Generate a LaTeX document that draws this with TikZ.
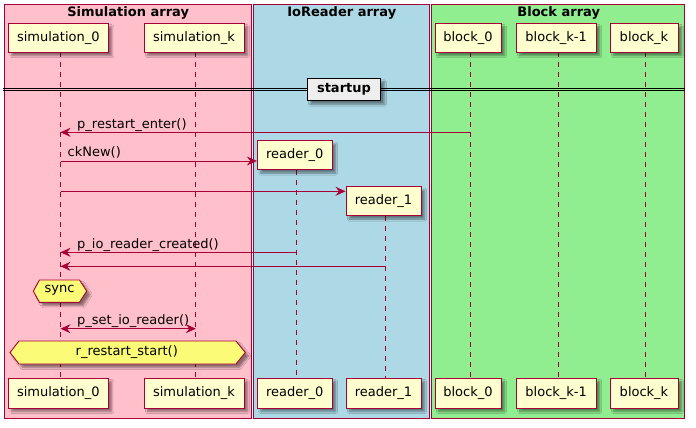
\documentclass[tikz,border=0pt]{standalone}
\usepackage{fontspec}
\setmainfont{DejaVu Sans}
\usetikzlibrary{arrows.meta,shadows.blur,calc}
\definecolor{brd}{HTML}{A80036}
\definecolor{partfill}{HTML}{FEFECE}
\definecolor{hexfill}{HTML}{FBFB77}
\definecolor{pinkc}{HTML}{FFC0CB}
\definecolor{bluec}{HTML}{ADD8E6}
\definecolor{greenc}{HTML}{90EE90}
\definecolor{sepfill}{HTML}{EEEEEE}
\begin{document}
\begin{tikzpicture}[x=1pt,y=-1pt,
  shad/.style={blur shadow={shadow xshift=3.5pt, shadow yshift=-3.5pt, shadow blur radius=2pt, shadow blur steps=6, shadow opacity=45}},
  part/.style={draw=brd, line width=1pt, fill=partfill, minimum height=29pt, inner sep=0pt,
    font=\fontsize{13}{15}\selectfont, shad},
  gtitle/.style={anchor=base, inner sep=0pt, font=\bfseries\fontsize{13}{15}\selectfont},
  grp/.style={draw=brd, line width=0.9pt},
  life/.style={draw=brd, line width=0.8pt, dash pattern=on 5pt off 5pt},
  msg/.style={draw=brd, line width=0.8pt, -{Stealth[length=10pt,width=9pt,inset=3.5pt]}},
  dmsg/.style={draw=brd, line width=0.8pt, {Stealth[length=10pt,width=9pt,inset=3.5pt]}-{Stealth[length=10pt,width=9pt,inset=3.5pt]}},
  lbl/.style={anchor=base west, inner sep=0pt, font=\fontsize{13}{15}\selectfont},
  hex/.style={draw=brd, fill=hexfill, line width=0.9pt, shad},
  htxt/.style={inner sep=0pt, font=\fontsize{13}{15}\selectfont},
  sepbox/.style={draw=black, line width=1.2pt, fill=sepfill, minimum width=73.7pt, minimum height=22.4pt,
    inner sep=0pt, font=\bfseries\fontsize{13}{15}\selectfont, shad}
]
\useasboundingbox (0,0) rectangle (696,428);
\fill[white] (0,0) rectangle (696,428);

% groups
\path[grp, fill=pinkc] (4,4) rectangle (251,418);
\path[grp, fill=bluec] (253,4) rectangle (429.7,418);
\path[grp, fill=greenc] (431.3,4) rectangle (684.7,418);
\node[gtitle] (tsim) at (128.2,16.5) {Simulation array};
\node[gtitle] (tio) at (341.8,16.5) {IoReader array};
\node[gtitle] (tblk) at (558.7,16.5) {Block array};

% lifeline x positions
\coordinate (Ls0) at (60.5,0);
\coordinate (Lsk) at (195.8,0);
\coordinate (Lr0) at (296.7,0);
\coordinate (Lr1) at (385.3,0);
\coordinate (Lb0) at (470.5,0);
\coordinate (Lbk1) at (558.3,0);
\coordinate (Lbk) at (645.3,0);

% lifelines
\draw[life] ($(Ls0)+(0,52)$) -- ($(Ls0)+(0,378)$);
\draw[life] ($(Lsk)+(0,52)$) -- ($(Lsk)+(0,378)$);
\draw[life] ($(Lr0)+(0,169.5)$) -- ($(Lr0)+(0,378)$);
\draw[life] ($(Lr1)+(0,215.5)$) -- ($(Lr1)+(0,378)$);
\draw[life] ($(Lb0)+(0,52)$) -- ($(Lb0)+(0,378)$);
\draw[life] ($(Lbk1)+(0,52)$) -- ($(Lbk1)+(0,378)$);
\draw[life] ($(Lbk)+(0,52)$) -- ($(Lbk)+(0,378)$);

% separator
\draw[black, line width=0.8pt] (3,88.3) -- (685,88.3);
\draw[black, line width=0.8pt] (3,90.8) -- (685,90.8);
\node[sepbox] (sep) at (344,89.5) {startup};

% participants top
\node[part, minimum width=100pt] (s0t) at (58.3,37.7) {simulation\_0};
\node[part, minimum width=100pt] (skt) at (194,37.7) {simulation\_k};
\node[part, minimum width=66pt] (b0t) at (468,37.7) {block\_0};
\node[part, minimum width=80pt] (bk1t) at (556.2,37.7) {block\_k-1};
\node[part, minimum width=68pt] (bkt) at (644,37.7) {block\_k};
\node[part, minimum width=74.7pt] (r0) at (294.7,155) {reader\_0};
\node[part, minimum width=75pt] (r1) at (383.5,201) {reader\_1};

% participants bottom
\node[part, minimum width=100pt, minimum height=30pt] (s0b) at (58.3,393) {simulation\_0};
\node[part, minimum width=100pt, minimum height=30pt] (skb) at (194,393) {simulation\_k};
\node[part, minimum width=74.7pt, minimum height=30pt] (r0b) at (294.7,393) {reader\_0};
\node[part, minimum width=75pt, minimum height=30pt] (r1b) at (383.5,393) {reader\_1};
\node[part, minimum width=66pt, minimum height=30pt] (b0b) at (468,393) {block\_0};
\node[part, minimum width=80pt, minimum height=30pt] (bk1b) at (556.2,393) {block\_k-1};
\node[part, minimum width=68pt, minimum height=30pt] (bkb) at (644,393) {block\_k};

% messages
\draw[msg] ($(Lb0)+(0,132.3)$) -- ($(Ls0)+(0,132.3)$);
\node[lbl] (m1) at (77,128) {p\_restart\_enter()};
\draw[msg] ($(Ls0)+(0,161)$) -- (r0.west |- {0,161});
\node[lbl] (m2) at (67.5,156.7) {ckNew()};
\draw[msg] ($(Ls0)+(0,191.3)$) -- (r1.west |- {0,191.3});
\draw[msg] ($(Lr0)+(0,252.3)$) -- ($(Ls0)+(0,252.3)$);
\node[lbl] (m4) at (77,248) {p\_io\_reader\_created()};
\draw[msg] ($(Lr1)+(0,266.3)$) -- ($(Ls0)+(0,266.3)$);

% sync
\path[hex] (33.3,291.1) -- (39.5,280) -- (79.5,280) -- (86.7,291.1) -- (79.5,302.3) -- (39.5,302.3) -- cycle;
\node[htxt] (sync) at (59.5,290.5) {sync};

\draw[dmsg] ($(Ls0)+(0,328.7)$) -- ($(Lsk)+(0,328.7)$);
\node[lbl] (m7) at (77,324.3) {p\_set\_io\_reader()};

\path[hex] (10,352.5) -- (19,341) -- (236,341) -- (245.3,352.5) -- (236,364) -- (19,364) -- cycle;
\node[htxt] (rrs) at (126.8,352) {r\_restart\_start()};
\end{tikzpicture}
\end{document}
